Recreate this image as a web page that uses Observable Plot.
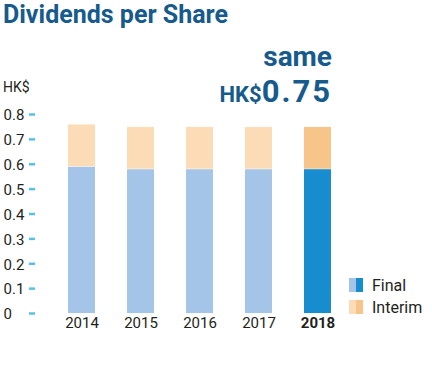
<!DOCTYPE html>
<html>
<head>
<meta charset="utf-8">
<script src="https://cdn.jsdelivr.net/npm/d3@7"></script>
<script src="https://cdn.jsdelivr.net/npm/@observablehq/plot@0.6"></script>
<style>
  html, body { margin: 0; padding: 0; background: #fff; }
  #wrap { position: relative; width: 432px; height: 380px; font-family: Roboto, "Liberation Sans", sans-serif; }
  #wrap svg { position: absolute; left: 0; top: 0; }
</style>
</head>
<body>
<div id="wrap"></div>
<script>
const years = ["2014", "2015", "2016", "2017", "2018"];
const finalValues = [0.59, 0.58, 0.58, 0.58, 0.58];
const interimValues = [0.17, 0.17, 0.17, 0.17, 0.17];
const yTicks = [0, 0.1, 0.2, 0.3, 0.4, 0.5, 0.6, 0.7, 0.8];
const highlightYear = "2018";
const titleText = "Dividends per Share";
const headlineTop = "same";
const headlineCurrency = "HK$";
const headlineValue = "0.75";
const unitLabel = "HK$";
const seriesNames = ["Final", "Interim"];

const colors = {
  Final: { light: "#a4c5e8", dark: "#178dd0" },
  Interim: { light: "#fcdcb7", dark: "#f7c589" }
};
const titleColor = "#175a8c";
const tickColor = "#55c2ee";
const textColor = "#231f20";

const rows = [];
years.forEach((yr, i) => {
  rows.push({ year: yr, series: "Final", value: finalValues[i] });
  rows.push({ year: yr, series: "Interim", value: interimValues[i] });
});

const chart = Plot.plot({
  width: 432,
  height: 380,
  marginTop: 114,
  marginBottom: 67,
  marginLeft: 50,
  marginRight: 84,
  style: { fontFamily: "Roboto, 'Liberation Sans', sans-serif", color: textColor, background: "transparent" },
  x: { domain: years, paddingInner: 0.55, paddingOuter: 0.275, axis: null, label: null },
  y: { domain: [0, 0.8], axis: null, label: null },
  marks: [
    Plot.barY(rows, {
      x: "year",
      y: "value",
      fill: d => d.year === highlightYear ? colors[d.series].dark : colors[d.series].light,
      insetTop: 0.5
    }),
    Plot.axisY(yTicks, { tickSize: 6, dx: -15, text: null, label: null, stroke: tickColor, strokeWidth: 2.5 }),
    Plot.axisY(yTicks, { tickSize: 0, tickPadding: 0, label: null, textAnchor: "start", dx: -47, dy: 1, fontSize: 15, fill: textColor, tickFormat: d => String(d) }),
    Plot.axisX(years.filter(y => y !== highlightYear), { tickSize: 0, tickPadding: 4, label: null, fontSize: 15, fill: textColor }),
    Plot.axisX([highlightYear], { tickSize: 0, tickPadding: 4, label: null, fontSize: 15, fontWeight: "bold", fill: textColor })
  ]
});
const wrap = document.getElementById("wrap");
wrap.appendChild(chart);

// Annotations overlay
const ov = d3.select(wrap).append("svg")
  .attr("width", 432).attr("height", 380)
  .style("font-family", "Roboto, 'Liberation Sans', sans-serif");

ov.append("text").attr("x", 3).attr("y", 23)
  .attr("fill", titleColor).attr("font-size", 25).attr("font-weight", "bold")
  .text(titleText);

ov.append("text").attr("x", 332).attr("y", 66).attr("text-anchor", "end")
  .attr("fill", titleColor).attr("font-size", 28).attr("font-weight", "bold")
  .text(headlineTop);

const hl = ov.append("text").attr("x", 332).attr("y", 102).attr("text-anchor", "end")
  .attr("fill", titleColor).attr("font-weight", "bold");
hl.append("tspan").attr("font-size", 22).text(headlineCurrency);
hl.append("tspan").attr("font-size", 31).attr("letter-spacing", 2).text(headlineValue);

ov.append("text").attr("x", 3).attr("y", 92)
  .attr("fill", textColor).attr("font-size", 14).text(unitLabel);

// Legend
seriesNames.forEach((name, i) => {
  const y0 = 278 + i * 22;
  ov.append("rect").attr("x", 349).attr("y", y0).attr("width", 7).attr("height", 14).attr("fill", colors[name].light);
  ov.append("rect").attr("x", 356).attr("y", y0).attr("width", 7).attr("height", 14).attr("fill", colors[name].dark);
  ov.append("text").attr("x", 372).attr("y", y0 + 13).attr("fill", textColor).attr("font-size", 16).text(name);
});
</script>
</body>
</html>
